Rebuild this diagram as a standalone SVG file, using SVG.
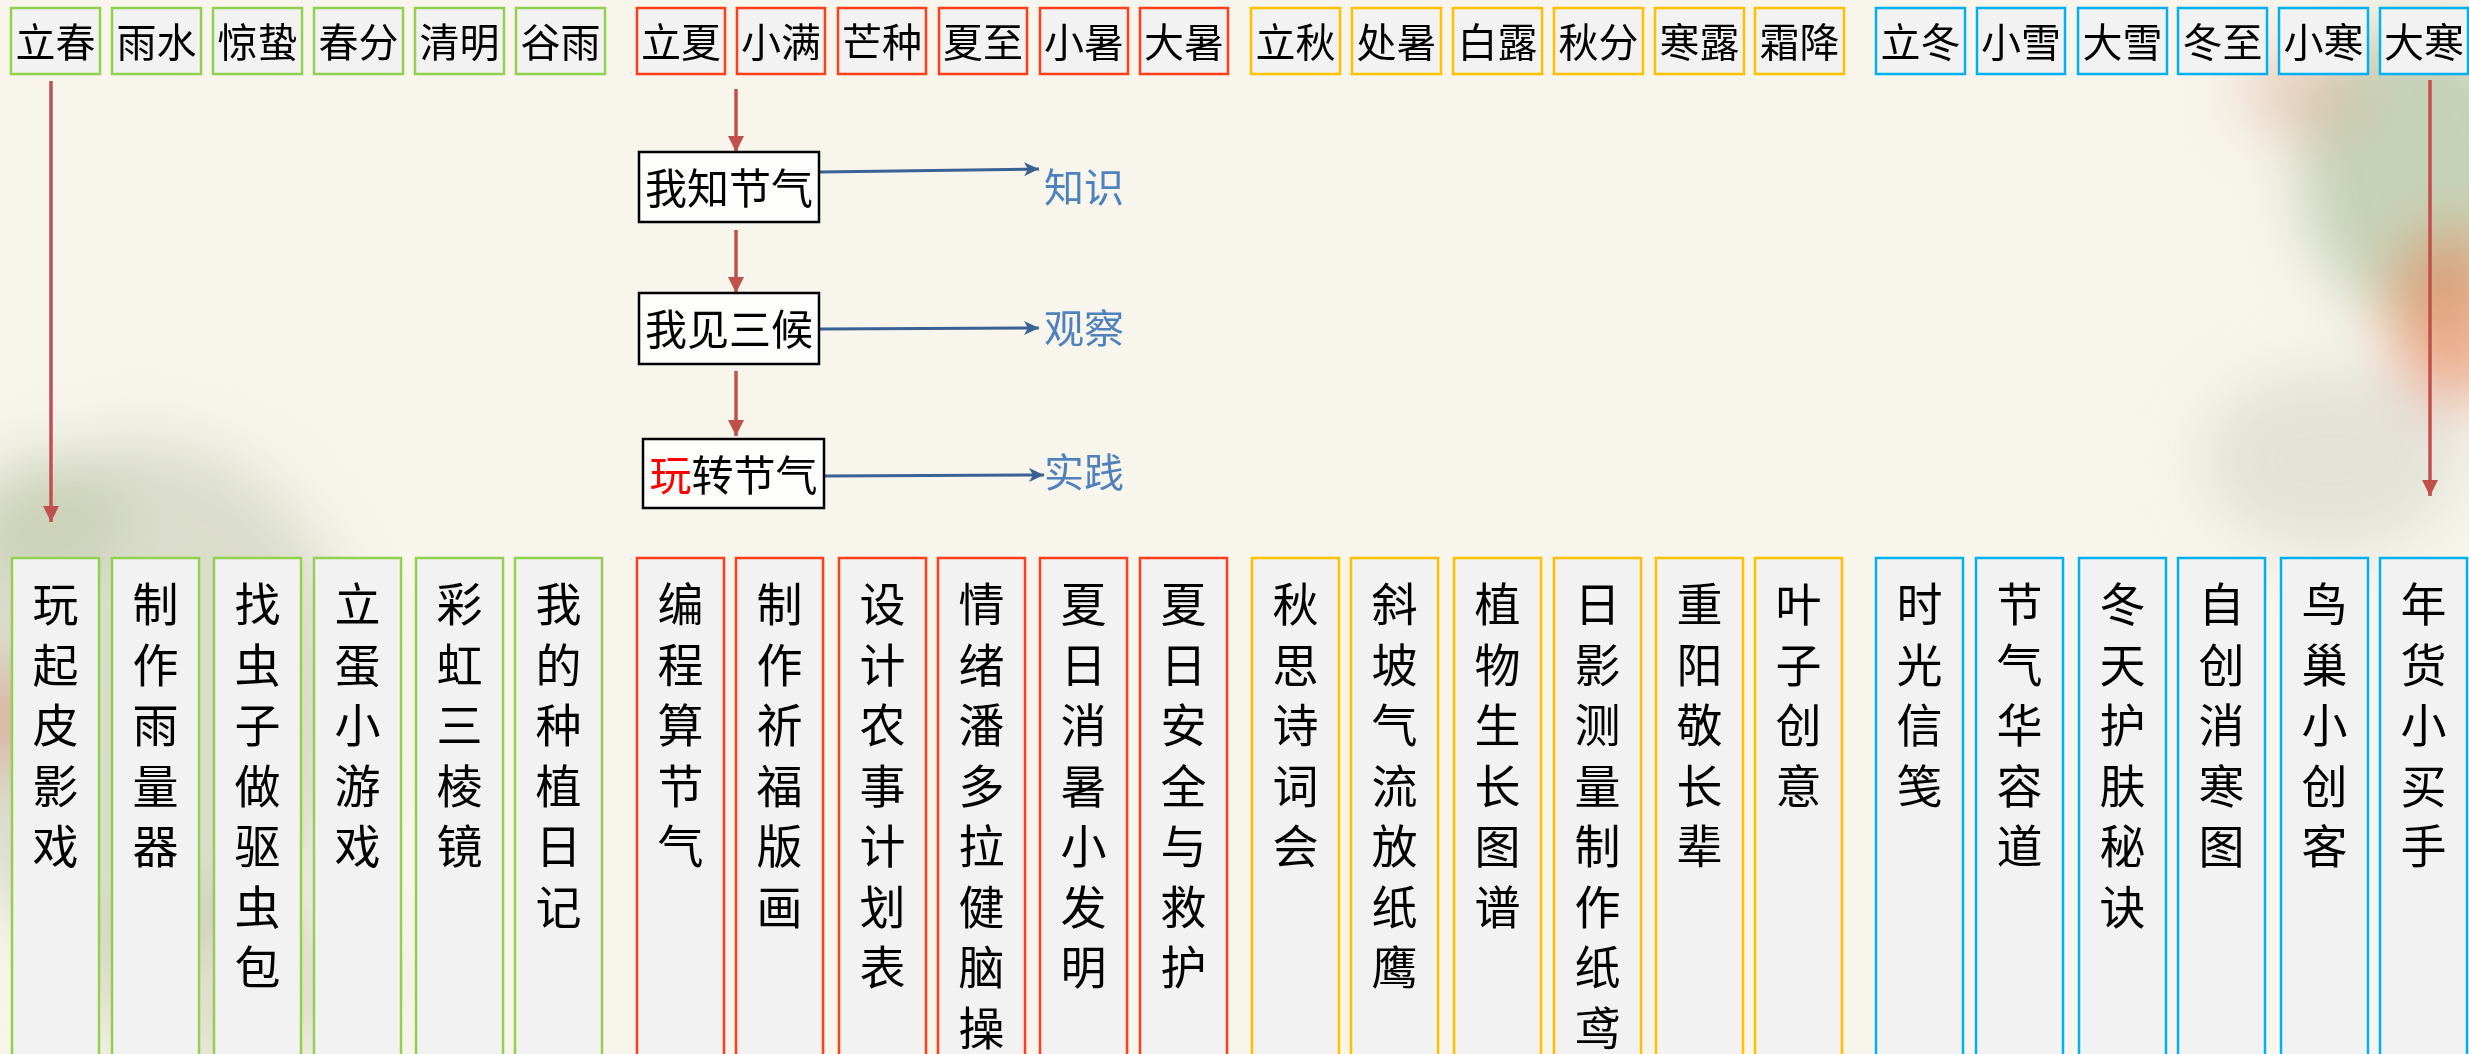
<svg xmlns="http://www.w3.org/2000/svg" width="2469" height="1054" viewBox="0 0 2469 1054">
<defs>
<style>
.lbl{font-family:"Noto Sans CJK SC",sans-serif;fill:#000;}
.top{font-size:40px;text-anchor:middle;}
.mid{font-size:42px;text-anchor:middle;}
.vt{font-size:46px;text-anchor:middle;}
.blue{font-family:"Noto Sans CJK SC",sans-serif;font-size:40px;fill:#4F81BD;}
.box{fill:#F2F2F2;stroke-width:2.5;}
.sp{stroke:#92D050;}
.su{stroke:#FF3F1A;}
.au{stroke:#FFC000;}
.wi{stroke:#00B0F0;}
.mbox{fill:#FDFDFB;stroke:#000;stroke-width:2.5;}
.red{stroke:#C0504D;stroke-width:3.5;fill:none;}
.bl{stroke:#3A6194;stroke-width:3;fill:none;}
</style>
<marker id="ar" viewBox="0 0 16 16" refX="16" refY="8" markerWidth="16" markerHeight="16" markerUnits="userSpaceOnUse" orient="auto">
<path d="M0,0 L16,8 L0,16 z" fill="#C0504D"/>
</marker>
<marker id="ab" viewBox="0 0 16 16" refX="15" refY="8" markerWidth="16" markerHeight="16" markerUnits="userSpaceOnUse" orient="auto">
<path d="M0,1 L15,8 L0,15 L4,8 z" fill="#3A6194"/>
</marker>
<filter id="blur" x="-50%" y="-50%" width="200%" height="200%"><feGaussianBlur stdDeviation="30"/></filter>
</defs>
<rect x="0" y="0" width="2469" height="1054" fill="#F7F5EC"/>
<g filter="url(#blur)">
<ellipse cx="2420" cy="170" rx="120" ry="150" fill="#9FB58A" opacity="0.55"/>
<ellipse cx="2450" cy="320" rx="60" ry="90" fill="#E4733B" opacity="0.55"/>
<ellipse cx="2300" cy="90" rx="60" ry="45" fill="#D9A48A" opacity="0.45"/>
<ellipse cx="2330" cy="460" rx="130" ry="90" fill="#CFCFC6" opacity="0.5"/>
<ellipse cx="140" cy="700" rx="220" ry="260" fill="#B9C2A4" opacity="0.45"/>
<ellipse cx="40" cy="520" rx="90" ry="60" fill="#B7C3A0" opacity="0.45"/>
<ellipse cx="10" cy="720" rx="40" ry="60" fill="#D87A5C" opacity="0.45"/>
<ellipse cx="220" cy="980" rx="160" ry="90" fill="#B9B89A" opacity="0.35"/>
</g>

<g id="connectors">
<line class="red" x1="51" y1="81" x2="51" y2="522" marker-end="url(#ar)"/>
<line class="red" x1="2430" y1="80" x2="2430" y2="496" marker-end="url(#ar)"/>
<line class="red" x1="736" y1="89" x2="736" y2="152" marker-end="url(#ar)"/>
<line class="red" x1="736" y1="230" x2="736" y2="293" marker-end="url(#ar)"/>
<line class="red" x1="736" y1="371" x2="736" y2="436" marker-end="url(#ar)"/>
<line class="bl" x1="820" y1="172" x2="1039" y2="169" marker-end="url(#ab)"/>
<line class="bl" x1="820" y1="329" x2="1039" y2="328" marker-end="url(#ab)"/>
<line class="bl" x1="825" y1="476" x2="1044" y2="475" marker-end="url(#ab)"/>
</g>

<g id="top-labels">
<g id="t-lichun"><rect class="box sp" x="11" y="8" width="89" height="66"/><text class="lbl top" x="55.5" y="57">立春</text></g>
<g id="t-yushui"><rect class="box sp" x="112" y="8" width="89" height="66"/><text class="lbl top" x="156.5" y="57">雨水</text></g>
<g id="t-jingzhe"><rect class="box sp" x="213" y="8" width="89" height="66"/><text class="lbl top" x="257.5" y="57">惊蛰</text></g>
<g id="t-chunfen"><rect class="box sp" x="314" y="8" width="89" height="66"/><text class="lbl top" x="358.5" y="57">春分</text></g>
<g id="t-qingming"><rect class="box sp" x="415" y="8" width="89" height="66"/><text class="lbl top" x="459.5" y="57">清明</text></g>
<g id="t-guyu"><rect class="box sp" x="516" y="8" width="89" height="66"/><text class="lbl top" x="560.5" y="57">谷雨</text></g>
<g id="t-lixia"><rect class="box su" x="637" y="8" width="88" height="66"/><text class="lbl top" x="681" y="57">立夏</text></g>
<g id="t-xiaoman"><rect class="box su" x="737" y="8" width="88" height="66"/><text class="lbl top" x="781" y="57">小满</text></g>
<g id="t-mangzhong"><rect class="box su" x="838" y="8" width="88" height="66"/><text class="lbl top" x="882" y="57">芒种</text></g>
<g id="t-xiazhi"><rect class="box su" x="939" y="8" width="88" height="66"/><text class="lbl top" x="983" y="57">夏至</text></g>
<g id="t-xiaoshu"><rect class="box su" x="1040" y="8" width="88" height="66"/><text class="lbl top" x="1084" y="57">小暑</text></g>
<g id="t-dashu"><rect class="box su" x="1140" y="8" width="88" height="66"/><text class="lbl top" x="1184" y="57">大暑</text></g>
<g id="t-liqiu"><rect class="box au" x="1251" y="8" width="89" height="66"/><text class="lbl top" x="1295.5" y="57">立秋</text></g>
<g id="t-chushu"><rect class="box au" x="1352" y="8" width="89" height="66"/><text class="lbl top" x="1396.5" y="57">处暑</text></g>
<g id="t-bailu"><rect class="box au" x="1453" y="8" width="89" height="66"/><text class="lbl top" x="1497.5" y="57">白露</text></g>
<g id="t-qiufen"><rect class="box au" x="1554" y="8" width="89" height="66"/><text class="lbl top" x="1598.5" y="57">秋分</text></g>
<g id="t-hanlu"><rect class="box au" x="1655" y="8" width="89" height="66"/><text class="lbl top" x="1699.5" y="57">寒露</text></g>
<g id="t-shuangjiang"><rect class="box au" x="1755" y="8" width="89" height="66"/><text class="lbl top" x="1799.5" y="57">霜降</text></g>
<g id="t-lidong"><rect class="box wi" x="1876" y="8" width="89" height="66"/><text class="lbl top" x="1920.5" y="57">立冬</text></g>
<g id="t-xiaoxue"><rect class="box wi" x="1977" y="8" width="88" height="66"/><text class="lbl top" x="2021" y="57">小雪</text></g>
<g id="t-daxue"><rect class="box wi" x="2078" y="8" width="89" height="66"/><text class="lbl top" x="2122.5" y="57">大雪</text></g>
<g id="t-dongzhi"><rect class="box wi" x="2178" y="8" width="89" height="66"/><text class="lbl top" x="2222.5" y="57">冬至</text></g>
<g id="t-xiaohan"><rect class="box wi" x="2279" y="8" width="89" height="66"/><text class="lbl top" x="2323.5" y="57">小寒</text></g>
<g id="t-dahan"><rect class="box wi" x="2380" y="8" width="88" height="66"/><text class="lbl top" x="2424" y="57">大寒</text></g>
</g>

<g id="middle">
<g id="n-zhi"><rect class="mbox" x="639" y="152" width="180" height="70"/><text class="lbl mid" x="729" y="204">我知节气</text></g>
<g id="n-jian"><rect class="mbox" x="639" y="293" width="180" height="71"/><text class="lbl mid" x="729" y="345">我见三候</text></g>
<g id="n-wan"><rect class="mbox" x="643" y="439" width="181" height="69"/><text class="lbl mid" x="733.5" y="491"><tspan fill="#FF0000">玩</tspan>转节气</text></g>
<g id="l-zhishi"><text class="blue" x="1044" y="202">知识</text></g>
<g id="l-guancha"><text class="blue" x="1044" y="343">观察</text></g>
<g id="l-shijian"><text class="blue" x="1044" y="487">实践</text></g>
</g>

<g id="activities">
<g id="a1"><rect class="box sp" x="12" y="558" width="87" height="510"/><text class="lbl vt"><tspan x="55.5" y="621">玩</tspan><tspan x="55.5" dy="60.5">起</tspan><tspan x="55.5" dy="60.5">皮</tspan><tspan x="55.5" dy="60.5">影</tspan><tspan x="55.5" dy="60.5">戏</tspan></text></g>
<g id="a2"><rect class="box sp" x="112" y="558" width="87" height="510"/><text class="lbl vt"><tspan x="155.5" y="621">制</tspan><tspan x="155.5" dy="60.5">作</tspan><tspan x="155.5" dy="60.5">雨</tspan><tspan x="155.5" dy="60.5">量</tspan><tspan x="155.5" dy="60.5">器</tspan></text></g>
<g id="a3"><rect class="box sp" x="214" y="558" width="87" height="510"/><text class="lbl vt"><tspan x="257.5" y="621">找</tspan><tspan x="257.5" dy="60.5">虫</tspan><tspan x="257.5" dy="60.5">子</tspan><tspan x="257.5" dy="60.5">做</tspan><tspan x="257.5" dy="60.5">驱</tspan><tspan x="257.5" dy="60.5">虫</tspan><tspan x="257.5" dy="60.5">包</tspan></text></g>
<g id="a4"><rect class="box sp" x="314" y="558" width="87" height="510"/><text class="lbl vt"><tspan x="357.5" y="621">立</tspan><tspan x="357.5" dy="60.5">蛋</tspan><tspan x="357.5" dy="60.5">小</tspan><tspan x="357.5" dy="60.5">游</tspan><tspan x="357.5" dy="60.5">戏</tspan></text></g>
<g id="a5"><rect class="box sp" x="416" y="558" width="87" height="510"/><text class="lbl vt"><tspan x="459.5" y="621">彩</tspan><tspan x="459.5" dy="60.5">虹</tspan><tspan x="459.5" dy="60.5">三</tspan><tspan x="459.5" dy="60.5">棱</tspan><tspan x="459.5" dy="60.5">镜</tspan></text></g>
<g id="a6"><rect class="box sp" x="515" y="558" width="87" height="510"/><text class="lbl vt"><tspan x="558.5" y="621">我</tspan><tspan x="558.5" dy="60.5">的</tspan><tspan x="558.5" dy="60.5">种</tspan><tspan x="558.5" dy="60.5">植</tspan><tspan x="558.5" dy="60.5">日</tspan><tspan x="558.5" dy="60.5">记</tspan></text></g>

<g id="a7"><rect class="box su" x="637" y="558" width="87" height="510"/><text class="lbl vt"><tspan x="680.5" y="621">编</tspan><tspan x="680.5" dy="60.5">程</tspan><tspan x="680.5" dy="60.5">算</tspan><tspan x="680.5" dy="60.5">节</tspan><tspan x="680.5" dy="60.5">气</tspan></text></g>
<g id="a8"><rect class="box su" x="736" y="558" width="87" height="510"/><text class="lbl vt"><tspan x="779.5" y="621">制</tspan><tspan x="779.5" dy="60.5">作</tspan><tspan x="779.5" dy="60.5">祈</tspan><tspan x="779.5" dy="60.5">福</tspan><tspan x="779.5" dy="60.5">版</tspan><tspan x="779.5" dy="60.5">画</tspan></text></g>
<g id="a9"><rect class="box su" x="839" y="558" width="87" height="510"/><text class="lbl vt"><tspan x="882.5" y="621">设</tspan><tspan x="882.5" dy="60.5">计</tspan><tspan x="882.5" dy="60.5">农</tspan><tspan x="882.5" dy="60.5">事</tspan><tspan x="882.5" dy="60.5">计</tspan><tspan x="882.5" dy="60.5">划</tspan><tspan x="882.5" dy="60.5">表</tspan></text></g>
<g id="a10"><rect class="box su" x="938" y="558" width="87" height="510"/><text class="lbl vt"><tspan x="981.5" y="621">情</tspan><tspan x="981.5" dy="60.5">绪</tspan><tspan x="981.5" dy="60.5">潘</tspan><tspan x="981.5" dy="60.5">多</tspan><tspan x="981.5" dy="60.5">拉</tspan><tspan x="981.5" dy="60.5">健</tspan><tspan x="981.5" dy="60.5">脑</tspan><tspan x="981.5" dy="60.5">操</tspan></text></g>
<g id="a11"><rect class="box su" x="1040" y="558" width="87" height="510"/><text class="lbl vt"><tspan x="1083.5" y="621">夏</tspan><tspan x="1083.5" dy="60.5">日</tspan><tspan x="1083.5" dy="60.5">消</tspan><tspan x="1083.5" dy="60.5">暑</tspan><tspan x="1083.5" dy="60.5">小</tspan><tspan x="1083.5" dy="60.5">发</tspan><tspan x="1083.5" dy="60.5">明</tspan></text></g>
<g id="a12"><rect class="box su" x="1140" y="558" width="87" height="510"/><text class="lbl vt"><tspan x="1183.5" y="621">夏</tspan><tspan x="1183.5" dy="60.5">日</tspan><tspan x="1183.5" dy="60.5">安</tspan><tspan x="1183.5" dy="60.5">全</tspan><tspan x="1183.5" dy="60.5">与</tspan><tspan x="1183.5" dy="60.5">救</tspan><tspan x="1183.5" dy="60.5">护</tspan></text></g>

<g id="a13"><rect class="box au" x="1252" y="558" width="87" height="510"/><text class="lbl vt"><tspan x="1295.5" y="621">秋</tspan><tspan x="1295.5" dy="60.5">思</tspan><tspan x="1295.5" dy="60.5">诗</tspan><tspan x="1295.5" dy="60.5">词</tspan><tspan x="1295.5" dy="60.5">会</tspan></text></g>
<g id="a14"><rect class="box au" x="1351" y="558" width="87" height="510"/><text class="lbl vt"><tspan x="1394.5" y="621">斜</tspan><tspan x="1394.5" dy="60.5">坡</tspan><tspan x="1394.5" dy="60.5">气</tspan><tspan x="1394.5" dy="60.5">流</tspan><tspan x="1394.5" dy="60.5">放</tspan><tspan x="1394.5" dy="60.5">纸</tspan><tspan x="1394.5" dy="60.5">鹰</tspan></text></g>
<g id="a15"><rect class="box au" x="1454" y="558" width="87" height="510"/><text class="lbl vt"><tspan x="1497.5" y="621">植</tspan><tspan x="1497.5" dy="60.5">物</tspan><tspan x="1497.5" dy="60.5">生</tspan><tspan x="1497.5" dy="60.5">长</tspan><tspan x="1497.5" dy="60.5">图</tspan><tspan x="1497.5" dy="60.5">谱</tspan></text></g>
<g id="a16"><rect class="box au" x="1554" y="558" width="87" height="510"/><text class="lbl vt"><tspan x="1597.5" y="621">日</tspan><tspan x="1597.5" dy="60.5">影</tspan><tspan x="1597.5" dy="60.5">测</tspan><tspan x="1597.5" dy="60.5">量</tspan><tspan x="1597.5" dy="60.5">制</tspan><tspan x="1597.5" dy="60.5">作</tspan><tspan x="1597.5" dy="60.5">纸</tspan><tspan x="1597.5" dy="60.5">鸢</tspan></text></g>
<g id="a17"><rect class="box au" x="1656" y="558" width="87" height="510"/><text class="lbl vt"><tspan x="1699.5" y="621">重</tspan><tspan x="1699.5" dy="60.5">阳</tspan><tspan x="1699.5" dy="60.5">敬</tspan><tspan x="1699.5" dy="60.5">长</tspan><tspan x="1699.5" dy="60.5">辈</tspan></text></g>
<g id="a18"><rect class="box au" x="1755" y="558" width="87" height="510"/><text class="lbl vt"><tspan x="1798.5" y="621">叶</tspan><tspan x="1798.5" dy="60.5">子</tspan><tspan x="1798.5" dy="60.5">创</tspan><tspan x="1798.5" dy="60.5">意</tspan></text></g>

<g id="a19"><rect class="box wi" x="1876" y="558" width="87" height="510"/><text class="lbl vt"><tspan x="1919.5" y="621">时</tspan><tspan x="1919.5" dy="60.5">光</tspan><tspan x="1919.5" dy="60.5">信</tspan><tspan x="1919.5" dy="60.5">笺</tspan></text></g>
<g id="a20"><rect class="box wi" x="1976" y="558" width="87" height="510"/><text class="lbl vt"><tspan x="2019.5" y="621">节</tspan><tspan x="2019.5" dy="60.5">气</tspan><tspan x="2019.5" dy="60.5">华</tspan><tspan x="2019.5" dy="60.5">容</tspan><tspan x="2019.5" dy="60.5">道</tspan></text></g>
<g id="a21"><rect class="box wi" x="2079" y="558" width="87" height="510"/><text class="lbl vt"><tspan x="2122.5" y="621">冬</tspan><tspan x="2122.5" dy="60.5">天</tspan><tspan x="2122.5" dy="60.5">护</tspan><tspan x="2122.5" dy="60.5">肤</tspan><tspan x="2122.5" dy="60.5">秘</tspan><tspan x="2122.5" dy="60.5">诀</tspan></text></g>
<g id="a22"><rect class="box wi" x="2178" y="558" width="87" height="510"/><text class="lbl vt"><tspan x="2221.5" y="621">自</tspan><tspan x="2221.5" dy="60.5">创</tspan><tspan x="2221.5" dy="60.5">消</tspan><tspan x="2221.5" dy="60.5">寒</tspan><tspan x="2221.5" dy="60.5">图</tspan></text></g>
<g id="a23"><rect class="box wi" x="2281" y="558" width="87" height="510"/><text class="lbl vt"><tspan x="2324.5" y="621">鸟</tspan><tspan x="2324.5" dy="60.5">巢</tspan><tspan x="2324.5" dy="60.5">小</tspan><tspan x="2324.5" dy="60.5">创</tspan><tspan x="2324.5" dy="60.5">客</tspan></text></g>
<g id="a24"><rect class="box wi" x="2380" y="558" width="87" height="510"/><text class="lbl vt"><tspan x="2423.5" y="621">年</tspan><tspan x="2423.5" dy="60.5">货</tspan><tspan x="2423.5" dy="60.5">小</tspan><tspan x="2423.5" dy="60.5">买</tspan><tspan x="2423.5" dy="60.5">手</tspan></text></g>
</g>
</svg>
